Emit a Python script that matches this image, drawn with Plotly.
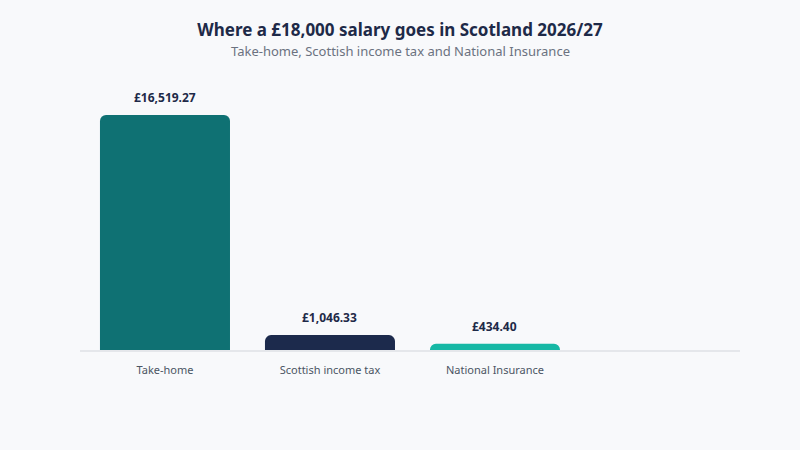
import plotly.graph_objects as go

categories = ["Take-home", "Scottish income tax", "National Insurance"]
values = [16519.27, 1046.33, 434.40]
labels = ["£16,519.27", "£1,046.33", "£434.40"]
colors = ["#0f7173", "#1c2a4c", "#16b8a5"]

TITLE = "Where a £18,000 salary goes in Scotland 2026/27"
SUBTITLE = "Take-home, Scottish income tax and National Insurance"
FONT = "Noto Sans"

fig = go.Figure()
fig.add_trace(go.Bar(
    x=categories, y=values,
    marker=dict(color=colors, cornerradius=6, line=dict(width=0)),
    hoverinfo="skip",
))

for c, v, t in zip(categories, values, labels):
    fig.add_annotation(x=c, y=v, text=f"<b>{t}</b>", showarrow=False,
                       yanchor="bottom", yshift=7,
                       font=dict(family=FONT, size=12, color="#1e2a48"))

fig.add_annotation(x=(400 - 80) / 660, y=(350 - 51) / 270, xref="paper", yref="paper",
                   xanchor="center", yanchor="middle", text=SUBTITLE, showarrow=False,
                   font=dict(family=FONT, size=13, color="#6b7280"))

fig.update_layout(
    width=800, height=450,
    paper_bgcolor="#f8f9fb", plot_bgcolor="#f8f9fb",
    margin=dict(l=80, r=60, t=80, b=100),
    showlegend=False,
    bargap=0.212,
    font=dict(family=FONT, color="#4b5563"),
    title=dict(
        text=f"<b>{TITLE}</b>",
        x=0.5, xanchor="center", xref="container",
        y=1 - 30 / 450, yanchor="middle", yref="container",
        font=dict(family=FONT, size=17, color="#1e2a48"),
    ),
    xaxis=dict(
        type="category", range=[-0.515, 3.485],
        showline=True, linecolor="#e5e7eb", linewidth=2, layer="below traces",
        showgrid=False, zeroline=False, ticks="",
        tickfont=dict(family=FONT, size=11, color="#4b5563"),
        ticklabelstandoff=9,
    ),
    yaxis=dict(range=[0, 18980], visible=False, showgrid=False, zeroline=False),
)

fig.write_html("out.html")
